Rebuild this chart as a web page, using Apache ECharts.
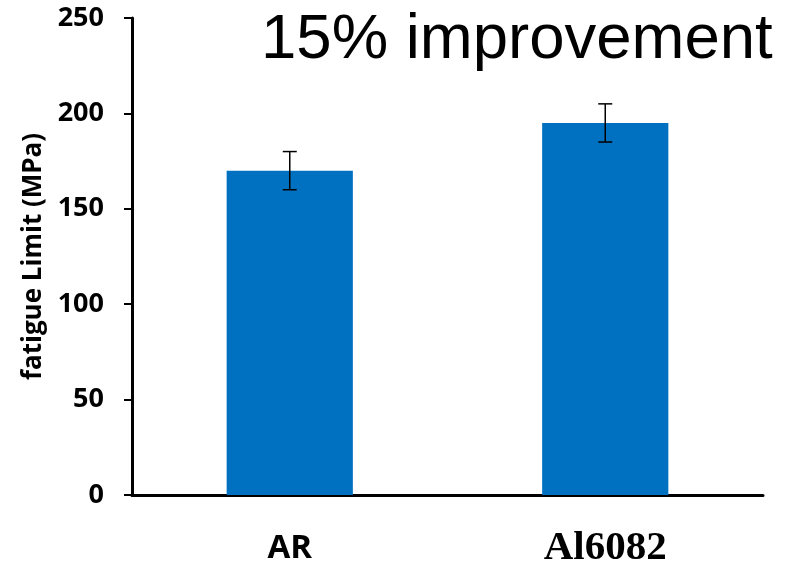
<!DOCTYPE html>
<html>
<head>
<meta charset="utf-8">
<script src="https://cdn.jsdelivr.net/npm/echarts@6/dist/echarts.min.js"></script>
<style>html,body{margin:0;padding:0;background:#fff;}#chart{width:790px;height:569px;}</style>
</head>
<body>
<div id="chart"></div>
<script>
var categories = ['AR', 'Al6082'];
var values = [170, 195];
var errLow = [160, 185];
var errHigh = [180, 205];
var yTicks = [0, 50, 100, 150, 200, 250];
var titleText = '15% improvement';
var yName = 'fatigue Limit (MPa)';

var chart = echarts.init(document.getElementById('chart'), null, {renderer: 'canvas'});
var errData = categories.map(function (c, i) { return [i, errLow[i], errHigh[i]]; });

chart.setOption({
  animation: false,
  backgroundColor: '#ffffff',
  title: {
    text: titleText,
    left: 256,
    top: 3,
    textStyle: {fontFamily: 'Liberation Sans', fontWeight: 'normal', fontSize: 63.5, color: '#000'}
  },
  grid: {left: 132, right: 27, top: 18, bottom: 69, containLabel: false},
  xAxis: {
    type: 'category',
    data: categories,
    axisLine: {lineStyle: {color: '#000', width: 3}},
    axisTick: {show: false},
    axisLabel: {
      margin: 33,
      formatter: function (v) { return v === 'AR' ? '{a|' + v + '}' : '{b|' + v + '}'; },
      rich: {
        a: {fontFamily: 'Open Sans', fontWeight: 'bold', fontSize: 33, color: '#000', padding: [4, 0, 0, 0]},
        b: {fontFamily: 'Liberation Serif', fontWeight: 'bold', fontSize: 41, color: '#000'}
      }
    }
  },
  yAxis: {
    type: 'value',
    min: yTicks[0],
    max: yTicks[yTicks.length - 1],
    interval: 50,
    name: yName,
    nameLocation: 'middle',
    nameGap: 82,
    nameTextStyle: {fontFamily: 'Open Sans', fontWeight: 'bold', fontSize: 26, color: '#000'},
    axisLine: {show: true, lineStyle: {color: '#000', width: 3}},
    axisTick: {show: true, length: 8, lineStyle: {color: '#000', width: 2}},
    splitLine: {show: false},
    axisLabel: {margin: 28, fontFamily: 'Open Sans', fontWeight: 'bold', fontSize: 27, color: '#000'}
  },
  series: [
    {
      type: 'bar',
      data: values,
      barWidth: '40%',
      itemStyle: {color: '#0070C0'},
      z: 2
    },
    {
      type: 'custom',
      data: errData,
      z: 5,
      renderItem: function (params, api) {
        var x = api.value(0);
        var lo = api.coord([x, api.value(1)]);
        var hi = api.coord([x, api.value(2)]);
        var hw = 7;
        var style = {stroke: '#000', lineWidth: 1.5};
        return {
          type: 'group',
          children: [
            {type: 'line', shape: {x1: hi[0], y1: hi[1], x2: lo[0], y2: lo[1]}, style: style},
            {type: 'line', shape: {x1: hi[0] - hw, y1: hi[1], x2: hi[0] + hw, y2: hi[1]}, style: style},
            {type: 'line', shape: {x1: lo[0] - hw, y1: lo[1], x2: lo[0] + hw, y2: lo[1]}, style: style}
          ]
        };
      }
    }
  ]
});
</script>
</body>
</html>
